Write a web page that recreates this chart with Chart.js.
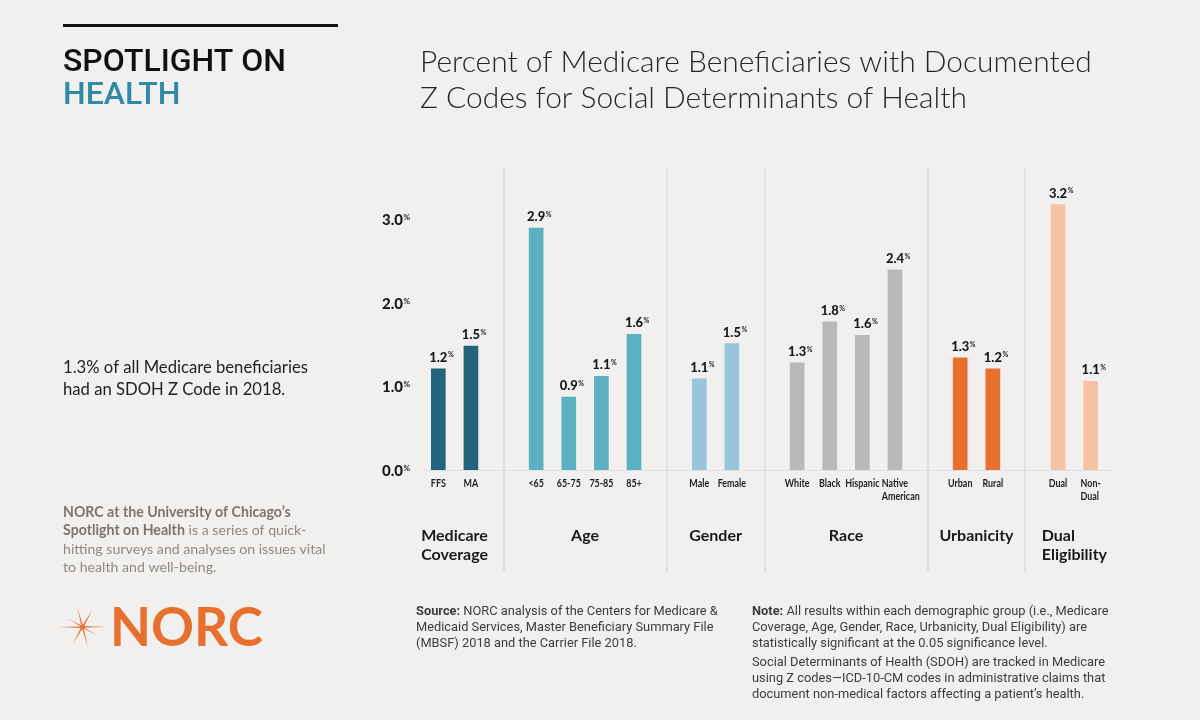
<!DOCTYPE html>
<html>
<head>
<meta charset="utf-8">
<title>Z Codes for SDOH</title>
<script src="https://cdn.jsdelivr.net/npm/chart.js"></script>
<style>
  html, body { margin: 0; padding: 0; background: #f1f0ee; }
  canvas { display: block; }
</style>
</head>
<body>
<canvas id="zcode-chart" width="1200" height="720"></canvas>
<script>
// Chart data
const groupNames = [['Medicare', 'Coverage'], ['Age'], ['Gender'], ['Race'], ['Urbanicity'], ['Dual', 'Eligibility']];
const groupCategories = [
    ['FFS', 'MA'],
    ['<65', '65-75', '75-85', '85+'],
    ['Male', 'Female'],
    ['White', 'Black', 'Hispanic', ['Native', 'American']],
    ['Urban', 'Rural'],
    ['Dual', ['Non-', 'Dual']]
];
const medicareValues = [1.21, 1.48];
const ageValues = [2.89, 0.87, 1.12, 1.62];
const genderValues = [1.09, 1.51];
const raceValues = [1.28, 1.77, 1.61, 2.39];
const urbanicityValues = [1.34, 1.21];
const dualValues = [3.17, 1.06];
const groupColors = ['#22647c', '#5bb0c1', '#97c5dc', '#b9b9b9', '#e8702f', '#f6c3a6'];
const yTicks = [0, 1, 2, 3];

const groupValues = [medicareValues, ageValues, genderValues, raceValues, urbanicityValues, dualValues];

// Flatten groups into one category axis, with an empty slot between groups
const labels = [];
const values = [];
const colors = [];
const groupSlots = [];
const spacerSlots = [];
groupCategories.forEach((cats, g) => {
    if (g > 0) {
        spacerSlots.push(labels.length);
        labels.push('');
        values.push(null);
        colors.push('rgba(0,0,0,0)');
    }
    const slots = [];
    cats.forEach((c, i) => {
        slots.push(labels.length);
        labels.push(c);
        values.push(groupValues[g][i]);
        colors.push(groupColors[g]);
    });
    groupSlots.push(slots);
});

const SANS = "Lato, 'Open Sans', sans-serif";

function fitSize(ctx, str, weight, family, targetW) {
    ctx.font = `${weight} 20px ${family}`;
    return 20 * targetW / ctx.measureText(str).width;
}

function drawText(ctx, str, x, y, font, color, align) {
    ctx.font = font;
    ctx.fillStyle = color;
    ctx.textAlign = align || 'left';
    ctx.textBaseline = 'alphabetic';
    ctx.fillText(str, x, y);
}

// number with a small raised % sign
function drawPct(ctx, num, x, y, size, align) {
    ctx.font = `900 ${size}px ${SANS}`;
    const w = ctx.measureText(num).width;
    let right = x;
    if (align === 'center') right = x + w / 2;
    if (align === 'left') right = x + w;
    drawText(ctx, num, right, y, `900 ${size}px ${SANS}`, '#1a1a1a', 'right');
    const small = Math.round(size * 0.5);
    drawText(ctx, '%', right + 0.5, y - size * 0.72 + small * 0.72, `700 ${small}px ${SANS}`, '#1a1a1a', 'left');
}

function drawRuns(ctx, runs, x, y, size, family) {
    let cx = x;
    runs.forEach(r => {
        ctx.font = `${r.bold ? 700 : 400} ${size}px ${family}`;
        ctx.fillStyle = r.color;
        ctx.textAlign = 'left';
        ctx.fillText(r.text, cx, y);
        cx += ctx.measureText(r.text).width;
    });
}

const pagePlugin = {
    id: 'page',
    beforeDraw(chart) {
        const ctx = chart.ctx;
        ctx.save();
        ctx.fillStyle = '#f1f0ee';
        ctx.fillRect(0, 0, chart.width, chart.height);
        ctx.restore();
    },
    beforeDatasetsDraw(chart) {
        const ctx = chart.ctx;
        const x = chart.scales.x;
        const y = chart.scales.y;
        const area = chart.chartArea;
        ctx.save();
        // baseline
        ctx.strokeStyle = '#e0dfdc';
        ctx.lineWidth = 1;
        ctx.beginPath();
        ctx.moveTo(area.left, y.getPixelForValue(0) + 0.5);
        ctx.lineTo(area.right + 5, y.getPixelForValue(0) + 0.5);
        ctx.stroke();
        // group separators
        ctx.strokeStyle = '#dcdbd8';
        ctx.lineWidth = 1.5;
        spacerSlots.forEach(s => {
            const px = Math.round(x.getPixelForValue(s));
            ctx.beginPath();
            ctx.moveTo(px, 168);
            ctx.lineTo(px, 572);
            ctx.stroke();
        });
        ctx.restore();
    },
    afterDatasetsDraw(chart) {
        const ctx = chart.ctx;
        const x = chart.scales.x;
        const y = chart.scales.y;
        ctx.save();

        // y tick labels
        yTicks.forEach(v => {
            const py = y.getPixelForValue(v);
            drawPct(ctx, v.toFixed(1), 403, py + 6, 15, 'right');
        });

        // value labels and category labels
        // (first line centred on the bar, following lines left-aligned to it)
        const CAT_FONT = `700 10.5px ${SANS}`;
        const squeeze = 0.85;
        values.forEach((v, i) => {
            if (v === null) return;
            const px = x.getPixelForValue(i);
            drawPct(ctx, v.toFixed(1), px, y.getPixelForValue(v) - 7, 13, 'center');
            const lines = Array.isArray(labels[i]) ? labels[i] : [labels[i]];
            ctx.font = CAT_FONT;
            const left = px - ctx.measureText(lines[0]).width * squeeze / 2;
            lines.forEach((l, k) => {
                ctx.save();
                ctx.translate(left, 487 + k * 12.5);
                ctx.scale(squeeze, 1);
                drawText(ctx, l, 0, 0, CAT_FONT, '#1e1e1e', 'left');
                ctx.restore();
            });
        });

        // group names, as a left-aligned block centred on the group
        groupNames.forEach((lines, g) => {
            const slots = groupSlots[g];
            const cx = (x.getPixelForValue(slots[0]) + x.getPixelForValue(slots[slots.length - 1])) / 2;
            ctx.font = `700 16px ${SANS}`;
            const w = Math.max(...lines.map(l => ctx.measureText(l).width));
            lines.forEach((l, k) => {
                drawText(ctx, l, cx - w / 2, 541 + k * 19, `700 16px ${SANS}`, '#1a1a1a', 'left');
            });
        });

        // header block
        ctx.fillStyle = '#111111';
        ctx.fillRect(63, 24, 275, 3);
        const spot = fitSize(ctx, 'SPOTLIGHT ON', 500, 'Roboto', 223);
        drawText(ctx, 'SPOTLIGHT ON', 63, 71, `500 ${spot}px Roboto`, '#111111');
        drawText(ctx, 'HEALTH', 63, 104, `500 ${spot}px Roboto`, '#2f89a7');

        // title
        const t1 = 'Percent of Medicare Beneficiaries with Documented';
        const ts = fitSize(ctx, t1, 300, SANS, 672);
        drawText(ctx, t1, 420, 72, `300 ${ts}px ${SANS}`, '#262626');
        drawText(ctx, 'Z Codes for Social Determinants of Health', 420, 108, `300 ${ts}px ${SANS}`, '#262626');

        // key stat
        const s1 = '1.3% of all Medicare beneficiaries';
        const ss = fitSize(ctx, s1, 400, SANS, 245);
        drawText(ctx, s1, 63, 373, `400 ${ss}px ${SANS}`, '#222222');
        drawText(ctx, 'had an SDOH Z Code in 2018.', 63, 395, `400 ${ss}px ${SANS}`, '#222222');

        // about paragraph
        const bc = '#7b746e', rc = '#8e8985';
        const ps = fitSize(ctx, 'hitting surveys and analyses on issues vital', 400, SANS, 263);
        const para = [
            [{ text: 'NORC at the University of Chicago\u2019s', bold: true, color: bc }],
            [{ text: 'Spotlight on Health', bold: true, color: bc }, { text: ' is a series of quick-', bold: false, color: rc }],
            [{ text: 'hitting surveys and analyses on issues vital', bold: false, color: rc }],
            [{ text: 'to health and well-being.', bold: false, color: rc }]
        ];
        para.forEach((runs, k) => drawRuns(ctx, runs, 63, 517 + k * 18.3, ps, SANS));

        // NORC logo
        const orange = '#e8702f';
        ctx.fillStyle = orange;
        const sx = 82.5, sy = 627;
        const spikes = [[0, 23], [60, 19], [105, 21], [150, 17], [180, 23], [240, 19], [285, 21], [330, 17]];
        ctx.beginPath();
        spikes.forEach(([deg, len], k) => {
            const a = deg * Math.PI / 180;
            const next = spikes[(k + 1) % spikes.length][0] + (k === spikes.length - 1 ? 360 : 0);
            const mid = ((deg + next) / 2) * Math.PI / 180;
            const tipX = sx + Math.cos(a) * len, tipY = sy - Math.sin(a) * len;
            if (k === 0) ctx.moveTo(tipX, tipY); else ctx.lineTo(tipX, tipY);
            ctx.lineTo(sx + Math.cos(mid) * 2, sy - Math.sin(mid) * 2);
        });
        ctx.closePath();
        ctx.fill();
        const ns = fitSize(ctx, 'NORC', 700, SANS, 153);
        drawText(ctx, 'NORC', 110, 646, `700 ${ns}px ${SANS}`, orange);

        // footnotes, narrow face
        const fc = '#3c3c3c';
        const FN = "Roboto, 'Liberation Sans', sans-serif";
        ctx.font = `400 13px ${FN}`;
        const noteFirst = 'Note: All results within each demographic group (i.e., Medicare';
        const scaleX = 356 / ctx.measureText(noteFirst).width;
        const footLeft = [
            [{ text: 'Source:', bold: true, color: fc }, { text: ' NORC analysis of the Centers for Medicare &', bold: false, color: fc }],
            [{ text: 'Medicaid Services, Master Beneficiary Summary File', bold: false, color: fc }],
            [{ text: '(MBSF) 2018 and the Carrier File 2018.', bold: false, color: fc }]
        ];
        const footRight = [
            [{ text: 'Note:', bold: true, color: fc }, { text: ' All results within each demographic group (i.e., Medicare', bold: false, color: fc }],
            [{ text: 'Coverage, Age, Gender, Race, Urbanicity, Dual Eligibility) are', bold: false, color: fc }],
            [{ text: 'statistically significant at the 0.05 significance level.', bold: false, color: fc }],
            [{ text: 'Social Determinants of Health (SDOH) are tracked in Medicare', bold: false, color: fc }],
            [{ text: 'using Z codes\u2014ICD-10-CM codes in administrative claims that', bold: false, color: fc }],
            [{ text: 'document non-medical factors affecting a patient\u2019s health.', bold: false, color: fc }]
        ];
        const rightY = [615, 631, 647, 666, 682, 698];
        footLeft.forEach((runs, k) => {
            ctx.save();
            ctx.translate(416, 615 + k * 16);
            ctx.scale(scaleX, 1);
            drawRuns(ctx, runs, 0, 0, 13, FN);
            ctx.restore();
        });
        footRight.forEach((runs, k) => {
            ctx.save();
            ctx.translate(752, rightY[k]);
            ctx.scale(scaleX, 1);
            drawRuns(ctx, runs, 0, 0, 13, FN);
            ctx.restore();
        });

        ctx.restore();
    }
};

new Chart(document.getElementById('zcode-chart').getContext('2d'), {
    type: 'bar',
    data: {
        labels: labels,
        datasets: [{
            data: values,
            backgroundColor: colors,
            borderWidth: 0,
            barThickness: 14
        }]
    },
    options: {
        responsive: false,
        animation: false,
        layout: { padding: { left: 422, right: 93, top: 177, bottom: 250 } },
        scales: {
            x: { display: false },
            y: { display: false, min: 0, max: 3.5 }
        },
        plugins: {
            legend: { display: false },
            tooltip: { enabled: false }
        }
    },
    plugins: [pagePlugin]
});
</script>
</body>
</html>
